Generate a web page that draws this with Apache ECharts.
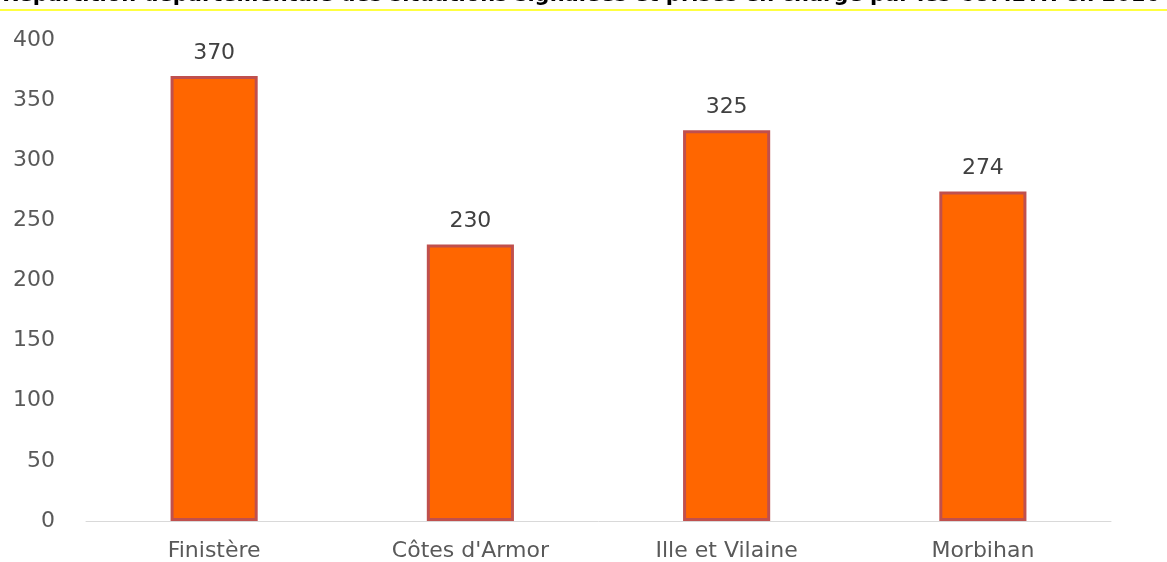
<!DOCTYPE html>
<html><head><meta charset="utf-8">
<script src="https://cdn.jsdelivr.net/npm/echarts@6/dist/echarts.min.js"></script>
<style>html,body{margin:0;padding:0;background:#fff}#c{width:1167px;height:562px}</style>
</head><body><div id="c"></div>
<script>
const categories = ["Finistère", "Côtes d'Armor", "Ille et Vilaine", "Morbihan"];
const values = [370, 230, 325, 274];
const yTicks = [0, 50, 100, 150, 200, 250, 300, 350, 400];
const titleText = "Répartition départementale des situations signalées et prises en charge par les CUMETH en 2016";

const chart = echarts.init(document.getElementById('c'));
chart.setOption({
  animation: false,
  backgroundColor: '#fff',
  graphic: [
    { type: 'text', right: 7, top: -15, z: 10,
      style: { text: titleText, font: 'bold 21px "DejaVu Sans"', fill: '#000' } },
    { type: 'line', shape: { x1: 0, y1: 10, x2: 1167, y2: 10 }, style: { stroke: '#ffff00', lineWidth: 1.5 }, z: 11 }
  ],
  grid: { left: 86, right: 56, top: 40, bottom: 39, containLabel: false },
  xAxis: {
    type: 'category', data: categories,
    axisLine: { lineStyle: { color: '#d9d9d9', width: 1 } },
    axisTick: { show: false },
    axisLabel: { color: '#595959', fontSize: 22, fontFamily: 'DejaVu Sans', margin: 19 }
  },
  yAxis: {
    type: 'value', min: yTicks[0], max: yTicks[yTicks.length - 1], interval: 50,
    splitLine: { show: false },
    axisLine: { show: false }, axisTick: { show: false },
    axisLabel: { color: '#595959', fontSize: 22, fontFamily: 'DejaVu Sans', margin: 31 }
  },
  series: [{
    type: 'bar', data: values, barWidth: '34%',
    itemStyle: { color: '#ff6600', borderColor: '#c0504d', borderWidth: 3 },
    label: { show: true, position: 'top', distance: 12, color: '#404040', fontSize: 22, fontFamily: 'DejaVu Sans' }
  }]
});
</script></body></html>
